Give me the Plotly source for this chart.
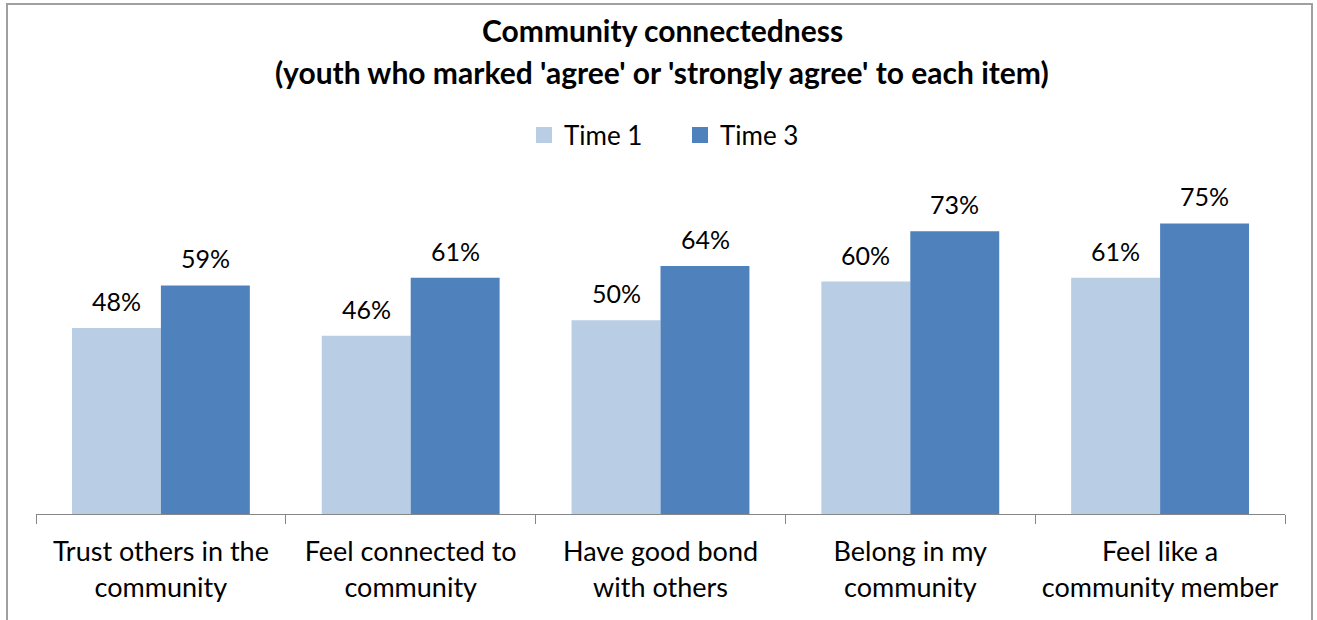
import plotly.graph_objects as go

# Survey items (x-axis categories) and share agreeing at each time point
categories = [
    "Trust others in the<br>community",
    "Feel connected to<br>community",
    "Have good bond<br>with others",
    "Belong in my<br>community",
    "Feel like a<br>community member",
]
time1 = [0.48, 0.46, 0.50, 0.60, 0.61]
time3 = [0.59, 0.61, 0.64, 0.73, 0.75]

series_names = ["Time 1", "Time 3"]
series_colors = ["#B9CDE5", "#4F81BD"]

FONT = "Lato"
W, H = 1317, 620
ML, MR, MT, MB = 36, 32, 204, 106
PLOT_H = H - MT - MB
Y_MAX = 0.8


def py(ypx):
    """pixel row -> paper y"""
    return (H - MB - ypx) / PLOT_H


def px(xpx):
    return (xpx - ML) / (W - ML - MR)


fig = go.Figure()
for name, vals, col in zip(series_names, [time1, time3], series_colors):
    fig.add_trace(go.Bar(
        x=categories, y=vals, name=name, marker_color=col,
        marker_line_width=0, showlegend=False,
    ))
    # square legend swatch
    fig.add_trace(go.Scatter(
        x=[None], y=[None], mode="markers", name=name,
        marker=dict(symbol="square", size=16, color=col),
    ))

# value labels above each bar
annotations = []
bar_offset = 44.5
for vals, shift in [(time1, -bar_offset), (time3, bar_offset)]:
    for c, v in zip(categories, vals):
        annotations.append(dict(
            x=c, y=v, xref="x", yref="y", text=f"{round(v * 100)}%",
            showarrow=False, xshift=shift, yshift=27, yanchor="middle",
            font=dict(family=FONT, size=25, color="#000000"),
        ))

# two-line title
annotations.append(dict(
    x=px(662), y=py(30), xref="paper", yref="paper",
    xanchor="center", yanchor="middle",
    text="<b>Community connectedness</b>", showarrow=False,
    font=dict(family=FONT, size=30, color="#000000"),
))
annotations.append(dict(
    x=px(662), y=py(72), xref="paper", yref="paper",
    xanchor="center", yanchor="middle",
    text="<b>(youth who marked 'agree' or 'strongly agree' to each item)</b>",
    showarrow=False, font=dict(family=FONT, size=30, color="#000000"),
))

fig.update_layout(
    width=W, height=H,
    margin=dict(l=ML, r=MR, t=MT, b=MB),
    paper_bgcolor="white", plot_bgcolor="white",
    barmode="group", bargap=0.288, bargroupgap=0,
    font=dict(family=FONT, color="#000000"),
    annotations=annotations,
    legend=dict(
        orientation="h", x=px(680), xanchor="center", y=py(135), yanchor="middle",
        font=dict(family=FONT, size=26, color="#000000"),
        bgcolor="rgba(0,0,0,0)", entrywidth=111,
    ),
    xaxis=dict(
        type="category", showline=True, linecolor="#868686", linewidth=1,
        ticks="outside", tickson="boundaries", ticklen=9, tickcolor="#868686",
        tickfont=dict(family=FONT, size=27, color="#000000"),
        ticklabelstandoff=14,
        showgrid=False, zeroline=False,
    ),
    yaxis=dict(range=[0, Y_MAX], visible=False, showgrid=False),
    shapes=[dict(
        type="rect", xref="paper", yref="paper",
        x0=px(7), x1=px(1312), y0=py(4), y1=py(660),
        line=dict(color="#A0A0A0", width=2), fillcolor="rgba(0,0,0,0)",
        layer="below",
    )],
)

fig.write_html("out.html")
